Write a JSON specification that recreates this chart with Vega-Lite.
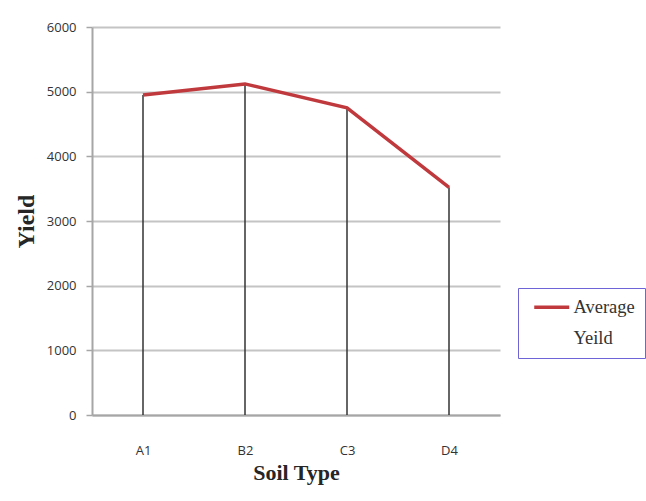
{
  "$schema": "https://vega.github.io/schema/vega-lite/v6.json",
  "width": 408,
  "height": 388,
  "autosize": {"type": "none"},
  "padding": {"left": 92, "top": 27, "right": 146, "bottom": 86},
  "background": "white",
  "data": {
    "values": [
      {"soil": "A1", "yield": 4950},
      {"soil": "B2", "yield": 5120},
      {"soil": "C3", "yield": 4750},
      {"soil": "D4", "yield": 3520}
    ]
  },
  "encoding": {
    "x": {
      "field": "soil",
      "type": "ordinal",
      "sort": null,
      "scale": {"type": "point", "padding": 0.5},
      "axis": {
        "title": "Soil Type",
        "labelAngle": 0,
        "ticks": false,
        "domainColor": "#a6a6a6",
        "domainWidth": 2,
        "labelFont": "Open Sans",
        "labelFontSize": 13,
        "labelColor": "#333333",
        "labelPadding": 29,
        "titleFont": "Liberation Serif",
        "titleFontSize": 22,
        "titleFontWeight": "bold",
        "titleColor": "#262626",
        "titlePadding": 5
      }
    }
  },
  "layer": [
    {
      "mark": {"type": "rule", "color": "#333333", "strokeWidth": 1.5},
      "encoding": {
        "y": {
          "field": "yield",
          "type": "quantitative",
          "scale": {"domain": [0, 6000], "nice": false},
          "axis": {
            "title": "Yield",
            "values": [0, 1000, 2000, 3000, 4000, 5000, 6000],
            "format": "d",
            "grid": true,
            "gridColor": "#c4c4c4",
            "gridWidth": 2,
            "domainColor": "#a6a6a6",
            "domainWidth": 2,
            "tickColor": "#a6a6a6",
            "tickSize": 6,
            "tickWidth": 1.5,
            "labelFont": "Open Sans",
            "labelFontSize": 13,
            "labelColor": "#333333",
            "labelPadding": 10,
            "titleFont": "Liberation Serif",
            "titleFontSize": 24,
            "titleFontWeight": "bold",
            "titleColor": "#262626",
            "titlePadding": 8
          }
        },
        "y2": {"datum": 0}
      }
    },
    {
      "mark": {"type": "line", "strokeWidth": 3.5},
      "encoding": {
        "y": {"field": "yield", "type": "quantitative"},
        "color": {
          "datum": "Average Yeild",
          "scale": {"range": ["#c0393d"]},
          "legend": {
            "title": null,
            "orient": "none",
            "legendX": 426,
            "legendY": 261,
            "strokeColor": "#6f63d8",
            "fillColor": "white",
            "padding": 10,
            "symbolType": "M-0.43,0H4.57",
            "symbolStrokeWidth": 3.5,
            "symbolSize": 196,
            "labelFont": "Liberation Serif",
            "labelFontSize": 18.5,
            "labelColor": "#333333",
            "labelOffset": 27,
            "labelExpr": "['Average', 'Yeild']"
          }
        }
      }
    }
  ],
  "config": {
    "view": {"stroke": null},
    "style": {"guide-label": {"lineHeight": 31}}
  }
}
